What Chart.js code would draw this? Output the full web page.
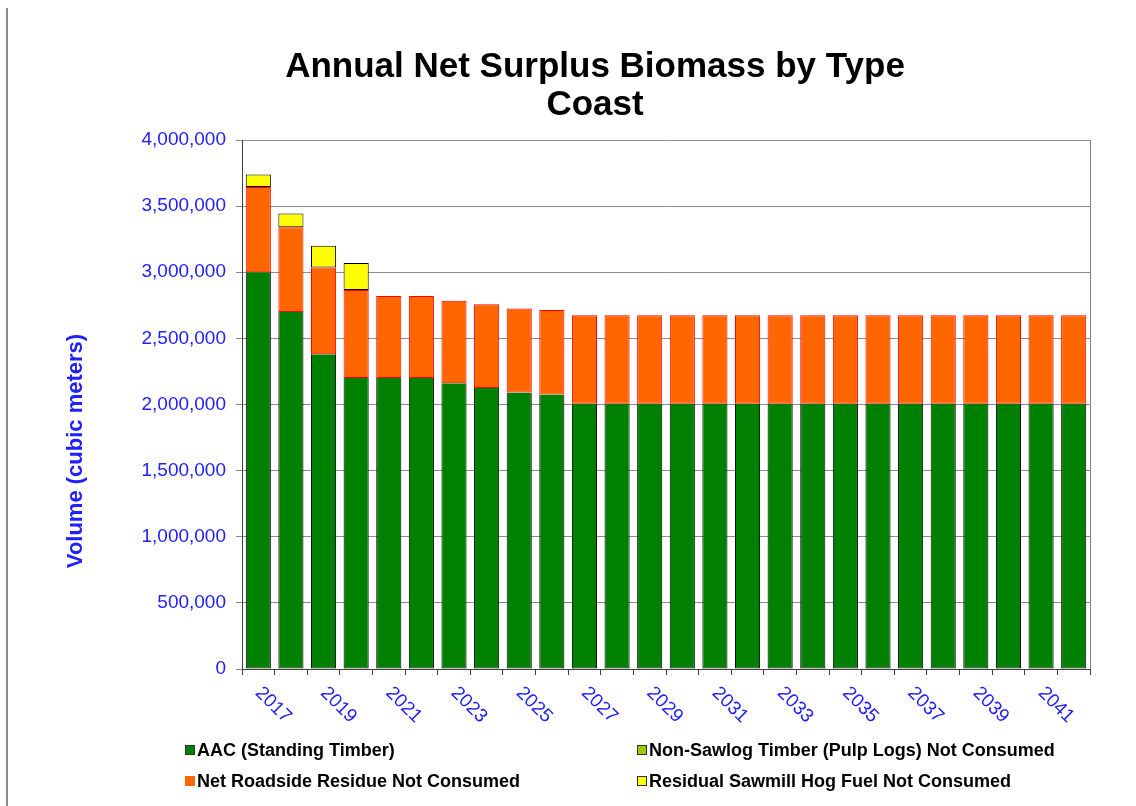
<!DOCTYPE html>
<html>
<head>
    <title>Annual Net Surplus Biomass by Type - Coast</title>
    <script src="https://cdn.jsdelivr.net/npm/chart.js"></script>
    <style>
        body { margin: 0; background: #ffffff; }
    </style>
</head>
<body>
    <canvas id="biomassChart" width="1136" height="806"></canvas>
<script>
// Years along the bottom
let years = ['2017', '2018', '2019', '2020', '2021', '2022', '2023', '2024', '2025', '2026',
             '2027', '2028', '2029', '2030', '2031', '2032', '2033', '2034', '2035', '2036',
             '2037', '2038', '2039', '2040', '2041', '2042'];

// AAC (Standing Timber)
let aac = [3000000, 2700000, 2380000, 2200000, 2200000, 2200000, 2160000, 2125000, 2090000, 2075000,
           2005000, 2005000, 2005000, 2005000, 2005000, 2005000, 2005000, 2005000, 2005000, 2005000,
           2005000, 2005000, 2005000, 2005000, 2005000, 2005000];

// Non-Sawlog Timber (Pulp Logs) Not Consumed - nothing left over
let pulpLogs = [0, 0, 0, 0, 0, 0, 0, 0, 0, 0, 0, 0, 0, 0, 0, 0, 0, 0, 0, 0, 0, 0, 0, 0, 0, 0];

// Net Roadside Residue Not Consumed
let roadside = [645000, 640000, 655000, 665000, 620000, 620000, 625000, 633000, 635000, 640000,
                670000, 670000, 670000, 670000, 670000, 670000, 670000, 670000, 670000, 670000,
                670000, 670000, 670000, 670000, 670000, 670000];

// Residual Sawmill Hog Fuel Not Consumed
let hogFuel = [95000, 105000, 165000, 205000, 0, 0, 0, 0, 0, 0, 0, 0, 0, 0, 0, 0, 0, 0, 0, 0,
               0, 0, 0, 0, 0, 0];

// Y axis tick values
let yTicks = [0, 500000, 1000000, 1500000, 2000000, 2500000, 3000000, 3500000, 4000000];

let titleLines = ['Annual Net Surplus Biomass by Type', 'Coast'];
let yTitle = 'Volume (cubic meters)';
let seriesNames = ['AAC (Standing Timber)', 'Non-Sawlog Timber (Pulp Logs) Not Consumed',
                   'Net Roadside Residue Not Consumed', 'Residual Sawmill Hog Fuel Not Consumed'];

let blue = '#2020ff';
let fontName = '"Liberation Sans", Arial, sans-serif';

// Colours for each series (fill, border)
let fills = ['#008000', '#99cc00', '#ff6600', '#ffff00'];
let borders = ['#000000', '#000000', '#ff0000', '#000000'];

// Plugin that draws the title, axis title, slanted year labels, the legend and the frame
const extras = {
    id: 'extras',
    afterDraw(chart) {
        const ctx = chart.ctx;
        const area = chart.chartArea;
        ctx.save();

        // outer frame line on the left
        ctx.strokeStyle = '#8c8c8c';
        ctx.lineWidth = 2;
        ctx.beginPath();
        ctx.moveTo(7, 8);
        ctx.lineTo(7, 806);
        ctx.stroke();

        // right border of the plot area
        ctx.strokeStyle = '#808080';
        ctx.lineWidth = 1;
        ctx.beginPath();
        ctx.moveTo(area.right + 0.5, area.top);
        ctx.lineTo(area.right + 0.5, area.bottom);
        ctx.stroke();

        // title
        ctx.fillStyle = '#000000';
        ctx.font = 'bold 35px ' + fontName;
        ctx.textAlign = 'center';
        ctx.textBaseline = 'middle';
        ctx.fillText(titleLines[0], 595, 67);
        ctx.fillText(titleLines[1], 595, 105);

        // y axis title
        ctx.save();
        ctx.translate(76, 451);
        ctx.rotate(-Math.PI / 2);
        ctx.fillStyle = blue;
        ctx.font = 'bold 22px ' + fontName;
        ctx.fillText(yTitle, 0, 0);
        ctx.restore();

        // year labels, every second one, slanted down to the right
        const xScale = chart.scales.x;
        ctx.fillStyle = blue;
        ctx.font = '19px ' + fontName;
        ctx.textAlign = 'left';
        ctx.textBaseline = 'middle';
        for (let i = 0; i < years.length; i += 2) {
            const px = xScale.getPixelForValue(i);
            ctx.save();
            ctx.translate(px, area.bottom + 21);
            ctx.rotate(Math.PI / 4);
            ctx.fillText(years[i], 0, 0);
            ctx.restore();
        }

        // legend in two columns
        const spots = [[185, 750], [637, 750], [185, 781], [637, 781]];
        ctx.font = 'bold 18px ' + fontName;
        ctx.textAlign = 'left';
        ctx.textBaseline = 'middle';
        seriesNames.forEach((name, i) => {
            const [lx, ly] = spots[i];
            ctx.fillStyle = fills[i];
            ctx.fillRect(lx, ly - 5, 10, 10);
            ctx.strokeStyle = borders[i] === '#ff0000' ? '#ff6600' : '#333333';
            ctx.lineWidth = 1;
            ctx.strokeRect(lx + 0.5, ly - 4.5, 9, 9);
            ctx.fillStyle = '#000000';
            ctx.fillText(name, lx + 12, ly + 1);
        });

        ctx.restore();
    }
};

const ctx = document.getElementById('biomassChart').getContext('2d');
const biomassChart = new Chart(ctx, {
    type: 'bar',
    data: {
        labels: years,
        datasets: [
            { label: seriesNames[0], data: aac, backgroundColor: fills[0], borderColor: borders[0], borderWidth: 1, borderSkipped: 'top' },
            { label: seriesNames[1], data: pulpLogs, backgroundColor: fills[1], borderColor: borders[1], borderWidth: 0 },
            { label: seriesNames[2], data: roadside, backgroundColor: fills[2], borderColor: borders[2], borderWidth: 1 },
            { label: seriesNames[3], data: hogFuel, backgroundColor: fills[3], borderColor: borders[3], borderWidth: 1 }
        ]
    },
    options: {
        responsive: false,
        animation: false,
        layout: {
            padding: { top: 140, right: 46, bottom: 0, left: 0 }
        },
        plugins: {
            legend: { display: false },
            title: { display: false },
            tooltip: { enabled: false }
        },
        datasets: {
            bar: { barPercentage: 0.77, categoryPercentage: 1.0, borderSkipped: false }
        },
        scales: {
            x: {
                stacked: true,
                grid: { offset: true, drawOnChartArea: false, tickLength: 6, color: '#404040' },
                border: { color: '#404040' },
                ticks: { display: false },
                afterFit: function (scale) { scale.height = 137; }
            },
            y: {
                stacked: true,
                min: 0,
                max: 4000000,
                afterBuildTicks: function (scale) {
                    scale.ticks = yTicks.map(v => ({ value: v }));
                },
                grid: { color: '#8c8c8c', tickLength: 6, lineWidth: 1 },
                border: { color: '#404040' },
                ticks: {
                    color: blue,
                    padding: 10,
                    font: { family: fontName, size: 19 },
                    callback: function (value) { return value.toLocaleString('en-US'); }
                },
                afterFit: function (scale) { scale.width = 242; }
            }
        }
    },
    plugins: [extras]
});
</script>
</body>
</html>
